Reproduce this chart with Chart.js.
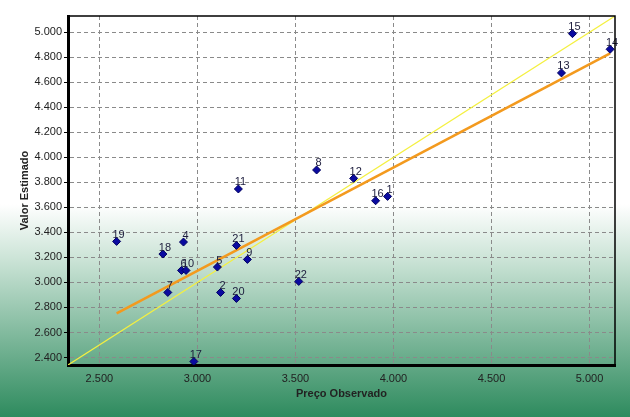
<!DOCTYPE html>
<html>
<head>
<meta charset="utf-8">
<script src="https://cdn.jsdelivr.net/npm/chart.js@4/dist/chart.umd.min.js"></script>
<style>
  html, body { margin: 0; padding: 0; background: #fff; }
  #wrap { width: 630px; height: 417px; }
</style>
</head>
<body>
<div id="wrap"><canvas id="c" width="630" height="417"></canvas></div>
<script>
// ---- data ----
const pointLabels = ['1','2','3','4','5','6','7','8','9','10','11','12','13','14','15','16','17','18','19','20','21','22'];
const observed = [3970, 3118, null, 2929, 3102, 2919, 2849, 3608, 3255, 2942, 3209, 3797, 4857, 5105, 4913, 3909, 2982, 2824, 2588, 3199, 3199, 3517];
const estimated = [3688, 2920, null, 3323, 3123, 3096, 2920, 3899, 3184, 3096, 3747, 3832, 4675, 4864, 4989, 3653, 2368, 3227, 3328, 2872, 3296, 3008];
const regressionX = [2588, 5105];
const regressionY = [2752, 4832];
const identityX = [2340, 5130];
const identityY = [2340, 5130];
const xTicks = [2500, 3000, 3500, 4000, 4500, 5000];
const yTicks = [2400, 2600, 2800, 3000, 3200, 3400, 3600, 3800, 4000, 4200, 4400, 4600, 4800, 5000];
const axisMin = 2340;
const axisMax = 5130;

function fmt(v) {
  const s = Math.round(v).toString();
  return s.replace(/\B(?=(\d{3})+(?!\d))/g, '.');
}

const pts = [];
const lbls = [];
for (let i = 0; i < observed.length; i++) {
  if (observed[i] == null) continue;
  pts.push({ x: observed[i], y: estimated[i] });
  lbls.push(pointLabels[i]);
}

const bgPlugin = {
  id: 'bg',
  beforeDraw(chart) {
    const { ctx, width, height } = chart;
    const g = ctx.createLinearGradient(0, 0, 0, height);
    g.addColorStop(0, '#ffffff');
    g.addColorStop(0.49, '#ffffff');
    g.addColorStop(0.62, '#cce4d7');
    g.addColorStop(1, '#2e8b5e');
    ctx.save();
    ctx.fillStyle = g;
    ctx.fillRect(0, 0, width, height);
    ctx.restore();
  }
};

const framePlugin = {
  id: 'frame',
  afterDraw(chart) {
    const { ctx, chartArea: a } = chart;
    ctx.save();
    ctx.strokeStyle = '#000';
    ctx.lineWidth = 1.5;
    ctx.beginPath();
    ctx.moveTo(a.left, a.top);
    ctx.lineTo(a.right, a.top);
    ctx.lineTo(a.right, a.bottom);
    ctx.stroke();
    ctx.restore();
  }
};

const labelPlugin = {
  id: 'ptlabels',
  afterDatasetsDraw(chart) {
    const meta = chart.getDatasetMeta(2);
    const ctx = chart.ctx;
    ctx.save();
    ctx.font = '11px "Liberation Sans", Arial, sans-serif';
    ctx.fillStyle = '#1c1c3c';
    ctx.textAlign = 'center';
    ctx.textBaseline = 'alphabetic';
    meta.data.forEach((el, i) => {
      ctx.fillText(lbls[i], el.x + 2, el.y - 3.5);
    });
    ctx.restore();
  }
};

new Chart(document.getElementById('c'), {
  type: 'scatter',
  data: {
    datasets: [
      {
        type: 'line',
        data: identityX.map((x, i) => ({ x, y: identityY[i] })),
        borderColor: '#f4f040',
        borderWidth: 1.2,
        pointRadius: 0,
        fill: false,
        order: 3
      },
      {
        type: 'line',
        data: regressionX.map((x, i) => ({ x, y: regressionY[i] })),
        borderColor: '#f39a1e',
        borderWidth: 2.6,
        pointRadius: 0,
        fill: false,
        order: 2
      },
      {
        data: pts,
        pointStyle: 'rectRot',
        pointRadius: 4,
        backgroundColor: '#0a0aa0',
        borderColor: '#000060',
        borderWidth: 1,
        order: 1
      }
    ]
  },
  options: {
    responsive: false,
    animation: false,
    devicePixelRatio: 1,
    layout: { padding: { top: 16, right: 15, left: 0, bottom: 14 } },
    plugins: { legend: { display: false }, tooltip: { enabled: false } },
    scales: {
      x: {
        type: 'linear',
        min: axisMin,
        max: axisMax,
        afterBuildTicks(scale) { scale.ticks = xTicks.map(v => ({ value: v })); },
        afterFit(scale) { scale.height = 38; },
        ticks: {
          callback: v => fmt(v),
          color: '#222',
          font: { family: '"Liberation Sans", Arial, sans-serif', size: 11 },
          padding: 7,
          maxRotation: 0
        },
        grid: { color: '#8a8a8a', lineWidth: 1, drawTicks: false },
        border: { color: '#000', width: 3, dash: [4, 3] },
        title: {
          display: true,
          text: 'Preço Observado',
          color: '#222',
          font: { family: '"Liberation Sans", Arial, sans-serif', size: 11, weight: 'bold' },
          padding: { top: 0, bottom: 2 }
        }
      },
      y: {
        type: 'linear',
        min: axisMin,
        max: axisMax,
        afterBuildTicks(scale) { scale.ticks = yTicks.map(v => ({ value: v })); },
        afterFit(scale) { scale.width = 68; },
        ticks: {
          callback: v => fmt(v),
          color: '#222',
          font: { family: '"Liberation Sans", Arial, sans-serif', size: 11 },
          padding: 2
        },
        grid: { color: '#8a8a8a', lineWidth: 1, drawTicks: true, tickLength: 4, tickColor: '#000', tickBorderDash: [] },
        border: { color: '#000', width: 3, dash: [4, 3] },
        title: {
          display: true,
          text: 'Valor Estimado',
          color: '#222',
          font: { family: '"Liberation Sans", Arial, sans-serif', size: 11, weight: 'bold' },
          padding: { top: 18, bottom: 0 }
        }
      }
    }
  },
  plugins: [bgPlugin, framePlugin, labelPlugin]
});
</script>
</body>
</html>
